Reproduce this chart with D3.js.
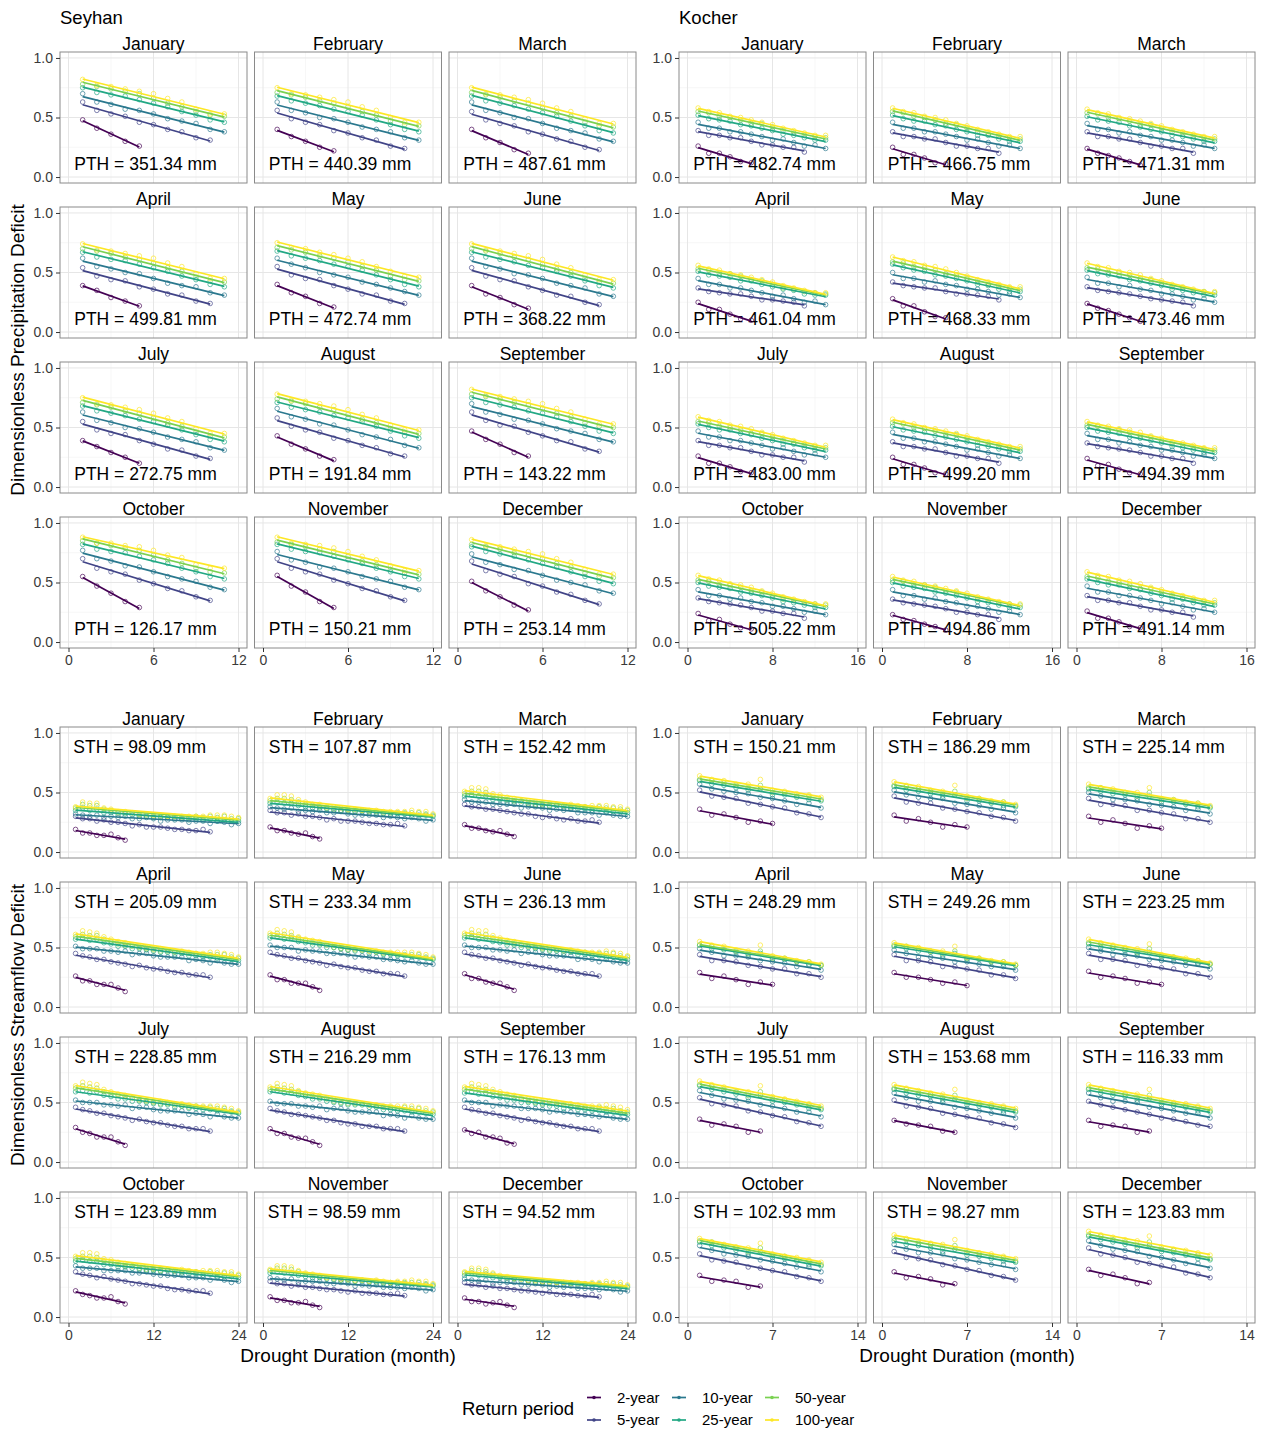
<!DOCTYPE html>
<html>
<head>
<meta charset="utf-8">
<script src="https://cdnjs.cloudflare.com/ajax/libs/d3/7.8.5/d3.min.js"></script>
<style>
  body { margin: 0; background: #fff; }
  svg { font-family: "Liberation Sans", Arial, sans-serif; }
</style>
</head>
<body>
<script>
// Drought deficit vs duration, by month and return period

var months = ['January', 'February', 'March', 'April', 'May', 'June',
  'July', 'August', 'September', 'October', 'November', 'December'];
var returnPeriods = ['2-year', '5-year', '10-year', '25-year', '50-year', '100-year'];
var yTicks = [0, 0.5, 1.0];

var seyhanPTH = [351.34, 440.39, 487.61, 499.81, 472.74, 368.22, 272.75, 191.84, 143.22, 126.17, 150.21, 253.14];
var kocherPTH = [482.74, 466.75, 471.31, 461.04, 468.33, 473.46, 483.00, 499.20, 494.39, 505.22, 494.86, 491.14];
var seyhanSTH = [98.09, 107.87, 152.42, 205.09, 233.34, 236.13, 228.85, 216.29, 176.13, 123.89, 98.59, 94.52];
var kocherSTH = [150.21, 186.29, 225.14, 248.29, 249.26, 223.25, 195.51, 153.68, 116.33, 102.93, 98.27, 123.83];

var seyhanPrecipTicks = [0, 6, 12];
var kocherPrecipTicks = [0, 8, 16];
var seyhanFlowTicks = [0, 12, 24];
var kocherFlowTicks = [0, 7, 14];

// Dimensionless deficit (x100) for durations 1, 2, 3 ... months.
// One entry per month, each holding the 2, 5, 10, 25, 50, 100-year series.
var seyhanPrecip = [
  [[48,41,36,30,26],[63,56,53,51,46,44,40,38,33,31],[70,63,61,57,56,53,49,47,45,40,38],[75,71,69,68,65,62,59,55,52,48,46],[78,76,74,72,70,66,62,59,55,52,51],[82,77,76,74,72,70,66,63,57,53,53]],
  [[40,34,30,25,22],[56,49,46,44,39,37,33,31,26,24],[63,56,54,50,49,46,42,40,38,33,31],[68,64,62,60,57,55,52,48,44,40,38],[71,69,67,64,62,59,55,52,47,44,43],[75,70,69,67,65,63,59,56,50,46,46]],
  [[40,33,29,23,20],[55,48,45,43,38,36,32,30,25,23],[63,56,54,50,49,45,41,39,37,32,30],[68,64,62,60,57,54,51,47,43,39,37],[71,69,67,64,62,58,54,51,46,43,42],[75,70,69,67,65,62,58,55,49,45,45]],
  [[39,35,29,26,22],[54,47,44,43,38,36,32,31,26,24],[62,55,53,50,49,45,41,39,38,33,31],[67,63,61,60,57,54,51,47,44,40,38],[70,68,66,63,61,58,54,51,46,43,42],[74,69,68,66,64,62,58,55,49,45,45]],
  [[40,33,30,24,21],[55,48,45,44,39,36,32,31,26,24],[62,57,54,50,48,46,42,40,37,34,31],[68,64,62,60,57,55,52,48,44,40,38],[71,69,67,64,62,59,55,52,47,44,43],[75,71,70,67,65,62,59,55,51,47,46]],
  [[39,32,29,23,20],[54,47,44,43,38,35,31,30,25,23],[62,55,53,49,48,45,41,39,37,32,30],[67,63,61,59,56,54,51,47,43,39,37],[70,68,66,63,61,57,53,50,45,42,41],[74,69,68,66,64,61,57,54,48,44,44]],
  [[39,34,29,25,20],[55,48,45,44,39,36,32,31,26,24],[63,56,54,50,49,46,42,40,38,33,31],[68,64,62,60,57,55,52,48,44,40,38],[71,69,67,64,62,58,54,51,46,43,42],[75,70,69,67,65,62,58,55,49,45,45]],
  [[43,36,32,26,23],[58,51,48,46,41,39,35,33,28,26],[66,59,57,53,52,48,44,42,40,35,33],[71,67,65,63,60,58,55,51,47,43,41],[74,72,70,67,65,61,57,54,49,46,45],[78,73,72,70,68,65,61,58,52,48,48]],
  [[47,40,36,29,26],[63,56,52,51,46,43,39,38,32,30],[70,63,61,57,56,53,49,47,45,40,38],[75,71,69,67,64,62,59,55,51,47,45],[78,76,74,71,69,66,62,59,54,51,50],[82,77,76,74,72,70,66,63,57,53,53]],
  [[55,47,41,34,29],[70,62,59,57,52,49,45,43,38,35],[77,70,68,64,63,59,55,53,51,46,44],[82,78,76,75,72,69,66,62,59,55,53],[85,83,81,79,77,73,69,66,62,59,58],[88,83,83,81,80,77,73,71,65,62,62]],
  [[56,47,42,34,29],[70,62,59,57,52,49,45,43,38,35],[76,69,67,63,62,59,55,53,51,46,44],[82,78,76,75,72,69,66,62,59,55,53],[84,82,80,78,76,72,68,65,61,58,57],[88,83,82,81,79,76,72,69,64,60,60]],
  [[51,43,38,31,27],[68,60,57,55,49,47,42,40,35,32],[74,67,65,61,60,56,52,50,48,43,41],[80,76,74,72,69,66,63,59,55,51,49],[82,80,78,75,73,70,66,63,58,55,54],[86,81,80,78,76,74,70,67,61,57,57]]
];

var kocherPrecip = [
  [[26,20,20,17,13,12],[39,35,35,33,33,30,27,27,25,25,21],[46,41,41,38,38,36,34,31,32,29,26,27,24],[52,49,48,47,44,43,41,39,36,35,33,31,31],[55,54,51,50,48,45,45,42,39,37,35,34,33],[58,55,54,51,50,48,46,44,41,39,37,35,35]],
  [[25,19,19,16,12,11],[38,34,34,32,32,29,26,26,24,24,20],[46,41,41,38,38,36,34,31,32,29,26,27,24],[52,49,47,47,44,43,40,38,35,35,32,30,30],[55,54,51,50,48,45,44,41,38,36,34,33,32],[58,55,54,51,50,48,45,43,40,38,36,34,34]],
  [[24,20,18,16,13,10],[38,34,34,32,32,29,26,26,24,24,20],[45,40,40,37,38,35,34,31,31,29,26,27,24],[51,48,47,46,43,42,40,38,35,34,32,30,30],[54,53,50,49,47,44,44,41,38,36,34,33,32],[57,54,53,50,49,47,45,43,40,38,36,34,34]],
  [[25,19,19,15,11,10],[37,34,33,32,32,30,27,27,26,25,22],[45,40,40,37,37,35,33,30,31,28,25,26,23],[51,48,47,46,43,43,40,38,36,35,32,31,31],[53,52,49,49,47,44,43,40,37,36,34,33,32],[56,53,52,49,48,46,44,42,39,37,35,33,33]],
  [[28,22,22,17,13,12],[42,39,38,37,37,34,32,32,31,30,27],[50,45,45,42,43,40,39,36,36,34,31,32,29],[57,54,52,51,48,47,45,43,40,39,36,34,34],[59,58,55,54,52,49,48,45,42,40,38,37,36],[63,60,59,56,55,53,50,47,44,42,40,38,38]],
  [[24,20,18,15,12,9],[38,35,34,33,32,30,28,27,26,25,22],[46,41,41,38,39,36,35,32,32,30,27,28,25],[52,49,48,47,44,43,41,39,36,35,33,31,31],[54,53,50,50,48,45,44,41,38,37,35,34,33],[58,55,54,51,50,48,45,43,40,38,36,34,34]],
  [[26,20,20,17,13,12],[39,35,35,33,33,30,27,27,25,25,21],[47,42,42,39,39,37,35,32,33,30,27,28,25],[53,50,48,48,45,44,41,39,36,36,33,31,31],[55,54,51,50,48,45,45,42,39,37,35,34,33],[59,56,55,52,51,49,46,44,41,39,37,35,35]],
  [[25,19,19,16,12,11],[38,34,34,32,32,29,26,26,24,24,20],[46,41,41,38,38,36,34,31,32,29,26,27,24],[51,48,47,46,43,42,40,38,35,34,32,30,30],[54,53,50,49,47,44,44,41,38,36,34,33,32],[57,54,53,50,49,47,45,43,40,38,36,34,34]],
  [[24,18,19,15,12,11],[37,34,33,32,31,29,26,26,24,24,20],[45,40,40,37,38,35,34,31,31,29,26,27,24],[50,47,46,45,42,41,39,37,34,33,31,29,29],[52,51,48,48,46,43,42,39,36,35,33,32,31],[55,52,51,49,48,46,43,41,38,37,35,33,33]],
  [[24,18,19,15,12,11],[37,34,33,32,31,29,26,26,24,24,20],[44,39,39,36,37,34,33,30,30,28,25,26,23],[50,47,46,45,42,41,39,37,34,33,31,29,29],[52,51,48,48,46,43,42,39,36,35,33,32,31],[56,53,52,49,48,46,43,41,38,36,34,32,32]],
  [[23,19,18,15,13,10],[36,33,32,31,30,28,25,25,23,23,19],[44,39,39,36,37,34,33,30,30,28,25,26,23],[50,47,46,45,42,41,39,37,34,33,31,29,29],[52,51,48,48,46,43,42,39,36,35,33,32,31],[55,52,51,48,47,45,43,41,38,36,34,32,32]],
  [[26,20,20,17,13,12],[39,35,35,33,33,30,27,27,25,25,21],[47,42,42,39,39,37,35,32,33,30,27,28,25],[53,50,48,48,45,44,41,39,36,36,33,31,31],[55,54,51,50,48,45,45,42,39,37,35,34,33],[59,56,55,52,51,49,46,44,41,39,37,35,35]]
];

var seyhanFlow = [
  [[19,16,16,14,14,15,12,10],
   [30,28,28,26,27,25,25,24,22,23,21,21,21,20,19,19,18,18,19,17],
   [32,31,30,31,29,30,29,30,28,28,29,28,26,27,27,27,25,26,26,24,26,25,23,24],
   [35,37,35,36,33,33,31,32,31,30,30,29,29,29,28,28,27,28,27,28,26,27,26,26],
   [37,40,39,39,36,35,33,33,33,31,31,30,30,30,30,29,29,30,29,30,29,30,28,28],
   [38,42,41,41,37,36,34,34,33,32,32,31,31,30,30,30,30,30,30,31,31,31,30,29]],
  [[21,18,18,16,15,16,13,11],
   [35,33,33,31,32,30,30,29,27,28,26,26,26,25,24,24,23,23,24,22],
   [38,37,36,37,34,35,34,35,33,33,34,32,31,31,31,31,29,30,29,28,29,28,26,27],
   [41,42,41,41,39,38,37,37,36,35,35,34,34,34,33,33,32,32,32,32,31,31,31,30],
   [43,45,45,44,42,40,39,38,37,36,35,35,34,35,34,34,33,33,33,33,33,33,32,31],
   [45,48,48,47,44,42,40,40,38,38,37,36,36,35,35,35,34,34,34,34,35,34,34,32]],
  [[23,20,20,18,17,18,15,13],
   [40,38,38,36,36,35,34,33,32,32,30,29,30,28,27,28,26,26,27,25],
   [44,42,42,42,40,40,40,40,37,38,38,37,35,36,35,36,33,33,33,31,33,31,30,30],
   [47,48,47,47,44,44,42,42,41,40,39,39,38,39,37,37,36,36,35,36,34,34,34,33],
   [49,51,51,50,47,46,44,43,43,41,40,40,39,40,39,38,38,38,37,38,37,37,36,35],
   [51,54,54,53,49,48,46,45,43,43,42,41,41,40,39,40,39,38,39,39,39,38,38,36]],
  [[26,22,22,19,19,19,16,13],
   [45,43,42,40,40,38,37,36,34,35,33,32,32,30,29,29,27,27,27,25],
   [51,49,49,49,47,47,46,47,44,45,45,43,42,42,42,42,39,40,39,37,39,37,36,36],
   [57,58,56,57,54,53,51,51,49,49,48,47,46,46,44,45,43,43,42,42,41,41,40,39],
   [59,61,60,60,57,55,53,52,51,50,49,48,47,47,46,46,45,45,44,44,44,44,42,41],
   [61,64,63,62,59,57,55,54,52,51,50,49,49,48,47,47,46,45,45,46,46,45,44,42]],
  [[27,23,23,20,20,20,17,14],
   [46,44,43,41,41,39,38,37,35,36,34,33,33,31,30,30,28,28,28,26],
   [52,50,50,50,47,48,47,47,45,45,45,44,42,43,42,42,40,40,39,38,39,37,36,36],
   [58,59,57,58,55,54,52,52,50,50,49,48,47,47,45,46,44,44,43,43,42,42,41,40],
   [60,62,61,60,58,56,54,53,52,50,49,48,48,48,47,46,45,45,44,44,44,44,42,41],
   [62,65,64,63,59,57,56,55,53,52,51,50,49,48,47,47,46,46,46,46,46,45,44,42]],
  [[28,24,24,21,20,20,17,14],
   [46,44,43,41,41,39,38,37,35,36,34,33,33,31,30,30,28,28,28,26],
   [52,50,50,50,48,48,47,48,45,46,46,44,43,43,43,43,40,41,40,38,40,38,37,37],
   [58,59,57,58,55,54,52,52,50,50,49,48,47,47,45,46,44,44,43,43,42,42,41,40],
   [60,62,61,61,58,56,54,53,52,51,50,49,48,48,47,47,46,46,45,45,45,45,43,42],
   [62,65,64,64,60,58,56,55,53,52,51,50,50,49,48,48,47,46,46,46,47,46,45,43]],
  [[29,25,24,21,21,21,17,14],
   [46,44,43,41,41,39,38,37,35,36,34,33,33,31,30,30,28,28,28,26],
   [52,50,50,50,48,48,47,48,45,46,46,44,43,43,43,43,40,41,40,38,40,38,37,37],
   [59,60,58,59,56,55,53,53,51,51,50,49,48,48,46,47,45,45,44,44,43,43,42,41],
   [62,64,63,62,59,57,56,55,54,52,51,50,49,49,48,47,46,47,46,46,45,45,43,42],
   [64,67,66,65,61,59,57,56,54,53,52,51,51,50,49,49,48,47,47,47,47,46,45,43]],
  [[28,24,24,21,20,20,17,14],
   [45,43,42,40,40,39,38,37,35,35,33,32,32,30,30,30,28,28,28,26],
   [51,49,49,49,47,47,46,47,44,45,45,43,42,42,42,42,39,40,39,37,39,37,36,36],
   [59,60,58,58,56,55,53,53,51,50,49,48,48,48,46,46,44,44,43,43,42,42,41,40],
   [61,63,62,61,59,57,55,54,53,51,50,49,49,49,48,47,46,46,45,46,45,45,43,42],
   [63,66,65,64,60,58,57,56,54,53,52,51,50,49,48,48,47,47,47,47,47,46,45,43]],
  [[27,24,25,21,21,20,16,15],
   [46,44,43,41,41,39,38,37,35,36,34,33,33,31,30,30,28,28,28,26],
   [52,50,50,50,47,48,47,47,45,45,45,44,42,43,42,42,40,40,39,38,39,37,36,36],
   [58,59,57,58,55,54,52,52,50,50,49,48,47,47,45,46,44,44,43,43,42,42,41,40],
   [61,63,62,61,59,57,55,54,53,51,50,49,49,49,48,47,46,46,45,46,45,45,43,42],
   [63,66,65,64,61,59,57,56,54,53,52,51,51,50,49,49,48,47,47,47,48,47,46,44]],
  [[22,19,18,16,16,17,13,11],
   [38,36,35,33,34,32,31,30,28,28,27,26,26,24,23,23,22,22,22,20],
   [43,41,41,41,39,39,39,39,37,37,38,36,35,35,35,35,33,33,33,31,33,31,29,30],
   [47,48,47,47,44,44,42,42,41,40,39,39,38,39,37,37,36,36,35,36,34,34,34,33],
   [49,51,51,50,47,46,44,43,43,41,40,40,39,40,39,38,38,38,37,38,37,37,36,35],
   [51,54,54,53,49,48,46,45,43,43,42,41,41,40,39,40,39,38,39,39,39,38,38,36]],
  [[17,14,14,12,12,13,10,8],
   [30,28,28,26,27,25,25,24,23,23,22,21,22,20,20,20,19,19,20,18],
   [33,32,31,32,29,30,30,30,28,28,29,28,26,27,26,27,25,25,25,24,25,24,22,23],
   [37,38,37,37,35,34,33,33,32,31,31,30,30,30,29,29,28,28,28,28,27,27,27,26],
   [39,41,41,40,38,36,35,34,33,32,31,31,30,31,30,30,29,29,29,29,29,29,28,27],
   [40,43,43,42,39,37,36,35,33,33,32,32,31,31,30,31,30,29,30,30,31,30,30,28]],
  [[16,13,13,11,12,13,10,8],
   [29,27,27,25,26,24,24,23,22,22,21,20,21,19,19,19,18,18,19,17],
   [32,31,30,31,28,29,29,29,27,27,28,27,25,26,25,26,24,24,24,23,24,23,21,22],
   [35,37,35,36,33,33,31,32,30,30,29,29,28,29,27,28,26,27,26,27,25,26,25,25],
   [37,39,39,38,36,34,33,32,32,30,30,29,29,29,29,28,28,28,28,28,28,28,27,26],
   [38,41,41,40,37,35,34,33,32,31,31,30,30,29,29,29,29,28,29,29,30,29,29,27]]
];

var kocherFlow = [
  [[36,31,32,29,25,26,24],[52,47,46,45,41,40,38,37,33,32,29],[57,53,51,50,49,46,45,43,40,41,37],[60,57,56,54,52,53,48,48,46,44,43],[61,60,58,56,54,56,50,50,47,47,44],[64,61,60,57,57,61,52,51,49,48,46]],
  [[31,26,28,25,21,23,21],[47,42,41,41,37,36,34,33,30,29,26],[52,48,46,45,45,41,40,39,36,37,33],[55,52,51,49,47,48,43,43,41,39,38],[56,55,53,51,49,51,45,45,42,42,39],[59,56,55,52,51,56,47,45,43,42,40]],
  [[30,25,27,24,20,22,20],[45,40,40,39,35,35,33,32,28,28,25],[50,47,44,44,43,40,39,38,35,36,32],[53,51,49,48,45,47,42,42,40,38,37],[54,54,51,50,47,50,44,44,41,41,38],[57,54,53,50,50,54,45,44,42,41,39]],
  [[29,24,26,23,19,21,19],[44,39,39,38,35,34,32,32,28,28,25],[49,46,43,43,42,39,38,37,34,35,31],[52,49,48,46,44,45,40,40,38,36,35],[52,51,49,47,45,47,41,41,38,38,35],[55,52,51,48,47,52,43,41,39,38,36]],
  [[29,25,25,23,20,21,18],[44,39,39,38,34,34,32,31,27,27,24],[48,45,42,42,41,38,38,36,34,34,31],[51,49,47,46,43,45,40,40,38,36,35],[52,51,49,47,45,47,41,41,38,38,35],[54,51,50,47,47,51,42,41,39,38,36]],
  [[30,25,26,24,20,21,19],[45,40,40,39,35,35,33,32,28,28,25],[50,47,44,44,43,40,39,38,35,36,32],[53,50,49,47,45,46,41,41,39,37,36],[54,53,51,49,46,49,43,42,39,39,36],[57,54,52,50,49,53,44,42,41,39,37]],
  [[36,31,32,30,25,26],[54,49,48,47,43,42,39,38,34,33,30],[60,56,53,52,51,48,47,45,42,42,38],[64,61,59,57,54,56,51,50,48,45,44],[65,64,61,59,56,59,53,52,49,48,45],[68,65,63,60,59,64,55,53,51,49,47]],
  [[35,32,31,30,26,25],[52,47,46,45,41,40,38,37,33,32,29],[58,54,51,51,50,46,45,43,41,41,37],[61,58,56,55,52,53,48,47,46,43,42],[62,61,58,57,54,56,50,49,47,46,43],[65,62,60,58,57,61,52,50,49,47,45]],
  [[35,30,31,30,25,26],[51,48,46,44,42,40,37,36,34,31,30],[58,54,51,51,50,46,45,43,41,41,37],[61,58,56,55,52,53,48,47,46,43,42],[62,61,58,57,54,56,50,49,47,46,43],[65,62,60,58,57,61,52,50,49,47,45]],
  [[35,30,31,30,25,26],[53,48,47,46,42,41,39,38,34,33,30],[60,56,53,52,51,48,47,45,42,42,38],[63,60,58,56,53,55,50,49,47,44,43],[64,63,60,58,55,58,52,51,48,47,44],[66,63,61,59,58,62,53,51,50,48,46]],
  [[38,33,34,32,27,28],[55,50,49,48,44,43,40,39,35,34,31],[61,57,54,54,53,49,48,46,44,44,40],[64,61,60,58,55,57,52,51,49,47,46],[66,65,62,61,58,60,54,53,51,50,47],[69,66,64,62,61,65,56,54,53,51,49]],
  [[40,35,36,33,28,29],[58,53,52,50,46,45,43,42,37,36,33],[64,60,57,56,55,51,50,48,45,45,41],[68,65,63,61,58,60,55,54,52,49,48],[69,68,65,63,60,63,57,56,53,52,49],[72,69,67,65,64,68,59,57,56,54,52]]
];

// Set up dimensions
var svgWidth = 1262;
var svgHeight = 1431;
var panelW = 187;
var panelH = 131;
var colStep = 194.5;
var rowStep = 155;

var colors = ['#440154', '#414487', '#2A788E', '#22A884', '#7AD151', '#FDE725'];

var svg = d3.select('body').append('svg')
  .attr('width', svgWidth)
  .attr('height', svgHeight);

// least-squares line through a series (the lm smoother of the original)
function fitLine(vals) {
  var pts = vals.map(function(v, i) { return [i + 1, v / 100]; });
  var mx = d3.mean(pts, function(p) { return p[0]; });
  var my = d3.mean(pts, function(p) { return p[1]; });
  var sxy = d3.sum(pts, function(p) { return (p[0] - mx) * (p[1] - my); });
  var sxx = d3.sum(pts, function(p) { return (p[0] - mx) * (p[0] - mx); });
  var slope = sxy / sxx;
  var n = pts.length;
  return [[1, my + slope * (1 - mx)], [n, my + slope * (n - mx)]];
}

function drawBlock(b) {
  var xScale = d3.scaleLinear()
    .domain([-0.05 * b.xMax, 1.05 * b.xMax])
    .range([0, panelW]);
  var yScale = d3.scaleLinear()
    .domain([-0.05, 1.05])
    .range([panelH, 0]);
  var xMinor = b.ticks.slice(1).map(function(t, i) { return (t + b.ticks[i]) / 2; });
  var yMinor = [0.25, 0.75];

  var line = d3.line()
    .x(function(d) { return xScale(d[0]); })
    .y(function(d) { return yScale(d[1]); });

  months.forEach(function(month, m) {
    var row = Math.floor(m / 3);
    var col = m % 3;
    var panel = svg.append('g')
      .attr('transform', `translate(${b.left + col * colStep}, ${b.top + row * rowStep})`);

    // grid
    panel.selectAll('.xminor').data(xMinor).enter().append('line')
      .attr('x1', function(d) { return xScale(d); }).attr('x2', function(d) { return xScale(d); })
      .attr('y1', 0).attr('y2', panelH)
      .attr('stroke', '#f3f3f3').attr('stroke-width', 0.7);
    panel.selectAll('.yminor').data(yMinor).enter().append('line')
      .attr('x1', 0).attr('x2', panelW)
      .attr('y1', function(d) { return yScale(d); }).attr('y2', function(d) { return yScale(d); })
      .attr('stroke', '#f3f3f3').attr('stroke-width', 0.7);
    panel.selectAll('.xmajor').data(b.ticks).enter().append('line')
      .attr('x1', function(d) { return xScale(d); }).attr('x2', function(d) { return xScale(d); })
      .attr('y1', 0).attr('y2', panelH)
      .attr('stroke', '#e6e6e6').attr('stroke-width', 1);
    panel.selectAll('.ymajor').data(yTicks).enter().append('line')
      .attr('x1', 0).attr('x2', panelW)
      .attr('y1', function(d) { return yScale(d); }).attr('y2', function(d) { return yScale(d); })
      .attr('stroke', '#e6e6e6').attr('stroke-width', 1);

    // threshold label
    var label = panel.append('text')
      .attr('y', b.labelTop ? 26 : panelH - 13.5)
      .attr('font-size', 17.5)
      .attr('fill', '#000')
      .text(`${b.prefix} = ${b.thresholds[m].toFixed(2)} mm`);
    label.attr('x', 0.1 * label.node().getComputedTextLength());

    var series = b.data[m];

    // points
    series.forEach(function(vals, s) {
      panel.append('g').selectAll('circle')
        .data(vals)
        .enter()
        .append('circle')
        .attr('cx', function(d, i) { return xScale(i + 1); })
        .attr('cy', function(d) { return yScale(d / 100); })
        .attr('r', 2.3)
        .attr('fill', 'none')
        .attr('stroke', colors[s])
        .attr('stroke-width', 0.9)
        .attr('opacity', 0.75);
    });

    // fitted lines
    series.forEach(function(vals, s) {
      panel.append('path')
        .attr('d', line(fitLine(vals)))
        .attr('fill', 'none')
        .attr('stroke', colors[s])
        .attr('stroke-width', 1.7);
    });

    // border
    panel.append('rect')
      .attr('width', panelW).attr('height', panelH)
      .attr('fill', 'none')
      .attr('stroke', '#8a8a8a')
      .attr('stroke-width', 1);

    // strip title
    panel.append('text')
      .attr('x', panelW / 2)
      .attr('y', -2.5)
      .attr('text-anchor', 'middle')
      .attr('font-size', 17.5)
      .text(month);

    if (col === 0) {
      var leftAxis = d3.axisLeft(yScale)
        .tickValues(yTicks)
        .tickFormat(d3.format('.1f'))
        .tickSize(4)
        .tickPadding(3);
      var ya = panel.append('g').call(leftAxis);
      ya.select('.domain').remove();
      ya.selectAll('line').attr('stroke', '#333');
      ya.selectAll('text').attr('font-size', 14).attr('fill', '#3a3a3a')
        .attr('font-family', '"Liberation Sans", Arial, sans-serif');
    }

    if (row === 3) {
      var bottomAxis = d3.axisBottom(xScale)
        .tickValues(b.ticks)
        .tickSize(4)
        .tickPadding(3);
      var xa = panel.append('g')
        .attr('transform', `translate(0, ${panelH})`)
        .call(bottomAxis);
      xa.select('.domain').remove();
      xa.selectAll('line').attr('stroke', '#333');
      xa.selectAll('text').attr('font-size', 14).attr('fill', '#3a3a3a')
        .attr('font-family', '"Liberation Sans", Arial, sans-serif');
    }
  });

  if (b.title) {
    svg.append('text')
      .attr('x', b.left)
      .attr('y', 24)
      .attr('font-size', 18.5)
      .text(b.title);
  }

  if (b.xTitle) {
    svg.append('text')
      .attr('x', b.left + (2 * colStep + panelW) / 2)
      .attr('y', 1362)
      .attr('text-anchor', 'middle')
      .attr('font-size', 19)
      .text('Drought Duration (month)');
  }
}

drawBlock({ title: 'Seyhan', left: 60, top: 52, xMax: 12, ticks: seyhanPrecipTicks, data: seyhanPrecip,
  prefix: 'PTH', thresholds: seyhanPTH, labelTop: false, xTitle: false });
drawBlock({ title: 'Kocher', left: 679, top: 52, xMax: 16, ticks: kocherPrecipTicks, data: kocherPrecip,
  prefix: 'PTH', thresholds: kocherPTH, labelTop: false, xTitle: false });
drawBlock({ title: null, left: 60, top: 727, xMax: 24, ticks: seyhanFlowTicks, data: seyhanFlow,
  prefix: 'STH', thresholds: seyhanSTH, labelTop: true, xTitle: true });
drawBlock({ title: null, left: 679, top: 727, xMax: 14, ticks: kocherFlowTicks, data: kocherFlow,
  prefix: 'STH', thresholds: kocherSTH, labelTop: true, xTitle: true });

// y-axis titles
svg.append('text')
  .attr('transform', 'translate(24, 350) rotate(-90)')
  .attr('text-anchor', 'middle')
  .attr('font-size', 19)
  .text('Dimensionless Precipitation Deficit');

svg.append('text')
  .attr('transform', 'translate(24, 1025) rotate(-90)')
  .attr('text-anchor', 'middle')
  .attr('font-size', 19)
  .text('Dimensionless Streamflow Deficit');

// legend
var legend = svg.append('g');
legend.append('text')
  .attr('x', 462)
  .attr('y', 1415)
  .attr('font-size', 18.5)
  .text('Return period');

var keyX = [587, 672, 765];
var keyY = [1397.5, 1420];
returnPeriods.forEach(function(rp, i) {
  var kx = keyX[Math.floor(i / 2)];
  var ky = keyY[i % 2];
  legend.append('line')
    .attr('x1', kx).attr('x2', kx + 14)
    .attr('y1', ky).attr('y2', ky)
    .attr('stroke', colors[i])
    .attr('stroke-width', 1.7);
  legend.append('circle')
    .attr('cx', kx + 7).attr('cy', ky)
    .attr('r', 1.8)
    .attr('fill', colors[i]);
  legend.append('text')
    .attr('x', kx + 30)
    .attr('y', ky + 5.3)
    .attr('font-size', 15)
    .text(rp);
});
</script>
</body>
</html>
